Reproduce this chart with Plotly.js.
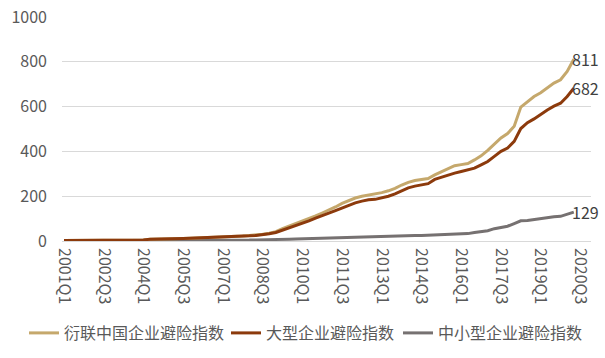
<!DOCTYPE html>
<html>
<head>
<meta charset="utf-8">
<script src="https://cdn.plot.ly/plotly-3.0.1.min.js"></script>
<style>html,body{margin:0;padding:0;background:#fff;}#chart{width:605px;height:358px;}</style>
</head>
<body>
<div id="chart"></div>
<script>
const quarters = [
 "2001Q1","2001Q2","2001Q3","2001Q4","2002Q1","2002Q2","2002Q3","2002Q4",
 "2003Q1","2003Q2","2003Q3","2003Q4","2004Q1","2004Q2","2004Q3","2004Q4",
 "2005Q1","2005Q2","2005Q3","2005Q4","2006Q1","2006Q2","2006Q3","2006Q4",
 "2007Q1","2007Q2","2007Q3","2007Q4","2008Q1","2008Q2","2008Q3","2008Q4",
 "2009Q1","2009Q2","2009Q3","2009Q4","2010Q1","2010Q2","2010Q3","2010Q4",
 "2011Q1","2011Q2","2011Q3","2011Q4","2012Q1","2012Q2","2012Q3","2012Q4",
 "2013Q1","2013Q2","2013Q3","2013Q4","2014Q1","2014Q2","2014Q3","2014Q4",
 "2015Q1","2015Q2","2015Q3","2015Q4","2016Q1","2016Q2","2016Q3","2016Q4",
 "2017Q1","2017Q2","2017Q3","2017Q4","2018Q1","2018Q2","2018Q3","2018Q4",
 "2019Q1","2019Q2","2019Q3","2019Q4","2020Q1","2020Q2","2020Q3"
];
const tickLabels = ["2001Q1","2002Q3","2004Q1","2005Q3","2007Q1","2008Q3","2010Q1",
 "2011Q3","2013Q1","2014Q3","2016Q1","2017Q3","2019Q1","2020Q3"];

const seriesNames = ["衍联中国企业避险指数","大型企业避险指数","中小型企业避险指数"];

const totalIndex = [
 2,2,3,3,3,3,4,4,4,4,5,5,5,8,8,9,9,10,11,12,
 13,15,16,17,17,18,20,22,25,27,30,35,42,55,66,78,90,100,112,125,
 138,152,168,180,192,200,205,210,216,224,235,250,262,270,275,279,295,308,322,336,
 341,346,362,380,405,432,460,480,512,598,622,645,662,685,705,720,757,811
];
const largeIndex = [
 2,2,3,3,3,3,4,4,4,4,5,5,5,8,8,9,9,10,11,12,
 13,14,15,16,16,17,19,21,23,25,28,32,38,48,58,70,80,90,102,112,
 124,136,148,160,170,178,184,186,192,200,210,225,237,245,251,256,275,285,292,303,
 310,316,325,340,355,378,400,415,445,502,528,545,566,585,602,615,645,682
];
const smallIndex = [
 1,1,1,1,1,1,1,1,1,1,2,2,2,2,2,2,2,2,2,2,
 2,2,3,3,3,3,4,4,4,5,5,5,5,6,8,9,10,10,11,11,
 13,14,16,18,19,20,20,20,21,22,23,24,24,25,25,26,27,28,30,31,
 32,33,38,42,46,55,60,66,78,90,92,96,102,106,108,110,118,129
];
const endLabels = ["811","682","129"];
const colors = ["#C5A86C","#8C3A0C","#767171"];
const legendIds = ["legend","legend2","legend3"];
const legendLeft = [24, 226, 398];

const series = [totalIndex, largeIndex, smallIndex];
const traces = series.map((vals, i) => ({
  type: "scatter",
  mode: "lines",
  name: seriesNames[i],
  legend: legendIds[i],
  x: quarters.slice(0, vals.length),
  y: vals,
  line: {color: colors[i], width: 3},
  hoverinfo: "skip"
}));
const drawOrder = [traces[2], traces[0], traces[1]];

const annotations = series.map((vals, i) => ({
  x: quarters[vals.length - 1],
  y: vals[vals.length - 1],
  xref: "x", yref: "y",
  text: endLabels[i],
  showarrow: false,
  xanchor: "left", yanchor: "middle",
  xshift: -4,
  font: {family: "Noto Sans CJK SC, sans-serif", size: 16, color: "#404040"}
}));

function legendBox(i) {
  return {
    orientation: "h",
    xref: "container", yref: "container",
    x: legendLeft[i] / 605, xanchor: "left", y: 1 - 333 / 358, yanchor: "middle",
    font: {size: 16, color: "#595959"},
    itemwidth: 30, bgcolor: "rgba(0,0,0,0)", borderwidth: 0
  };
}

const layout = {
  width: 605, height: 358,
  margin: {l: 62, r: 14, t: 17, b: 117},
  paper_bgcolor: "#fff", plot_bgcolor: "#fff",
  font: {family: "Noto Sans CJK SC, sans-serif", size: 16, color: "#595959"},
  showlegend: true,
  legend: legendBox(0),
  legend2: legendBox(1),
  legend3: legendBox(2),
  xaxis: {
    type: "category",
    categoryorder: "array", categoryarray: quarters,
    range: [-0.3, 79.6],
    tickmode: "array", tickvals: tickLabels, ticktext: tickLabels,
    tickangle: 90,
    showgrid: false, zeroline: false,
    showline: false, ticks: "",
    ticklabelstandoff: 6,
    automargin: false,
    tickfont: {size: 16, color: "#595959"}
  },
  yaxis: {
    range: [0, 1000],
    tickvals: [0,200,400,600,800,1000],
    showgrid: true, gridcolor: "#D9D9D9", gridwidth: 1,
    zeroline: true, zerolinecolor: "#D9D9D9", zerolinewidth: 1,
    showline: false, ticks: "",
    ticklabelstandoff: 14,
    automargin: false,
    tickfont: {size: 16, color: "#595959"}
  },
  annotations: annotations
};
Plotly.newPlot("chart", drawOrder, layout, {staticPlot: true, displayModeBar: false});
</script>
</body>
</html>
